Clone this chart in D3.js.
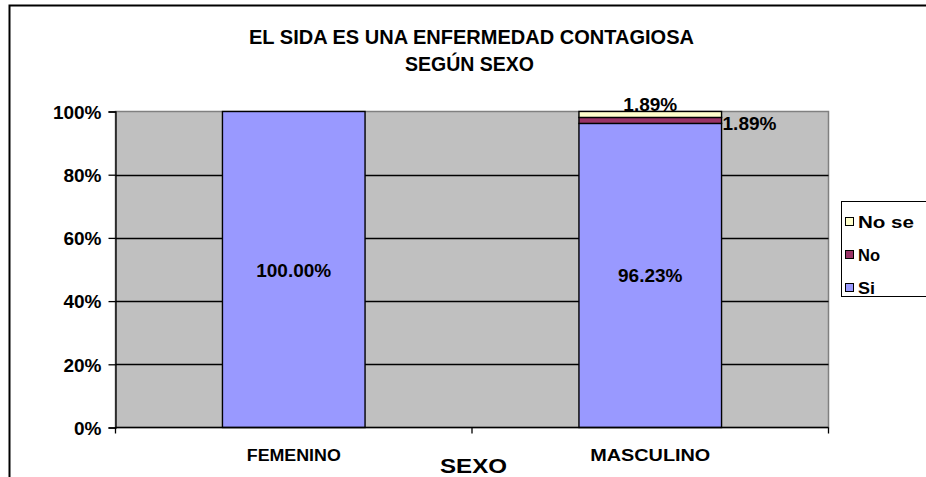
<!DOCTYPE html>
<html><head><meta charset="utf-8">
<script src="https://cdn.jsdelivr.net/npm/d3@7"></script>
<style>body{margin:0;background:#fff}text{font-family:"Liberation Sans",Arial,sans-serif;font-weight:bold;fill:#000}</style>
</head><body><svg id="c" width="926" height="477"></svg>
<script>
const categories = ["FEMENINO", "MASCULINO"];
const seriesNames = ["Si", "No", "No se"];
const si = [100.00, 96.23];
const no = [0, 1.89];
const noSe = [0, 1.89];
const yTicks = [0, 20, 40, 60, 80, 100];
const colors = ["#9999FF", "#993366", "#FFFFCC"];

const svg = d3.select("#c");
// outer border
svg.append("rect").attr("x", 9.5).attr("y", 5.5).attr("width", 940).attr("height", 500)
  .attr("fill", "#fff").attr("stroke", "#000").attr("stroke-width", 2);

const x0 = 115.5, x1 = 828.5, yTop = 111.5, yBot = 427.5;
const x = d3.scaleBand().domain(categories).range([x0, x1]).paddingInner(0.6).paddingOuter(0.3);
const y = d3.scaleLinear().domain([0, 100]).range([yBot, yTop]);

svg.append("rect").attr("x", x0).attr("y", yTop).attr("width", x1 - x0).attr("height", yBot - yTop)
  .attr("fill", "#C0C0C0").attr("stroke", "#808080").attr("stroke-width", 1.5);

// gridlines
svg.append("g").selectAll("line").data(yTicks.filter(d => d > 0 && d < 100)).join("line")
  .attr("x1", x0).attr("x2", x1).attr("y1", d => Math.round(y(d)) + 0.5).attr("y2", d => Math.round(y(d)) + 0.5)
  .attr("stroke", "#000").attr("stroke-width", 1.3);

// stacked bars
const rows = categories.map((c, i) => ({cat: c, "Si": si[i], "No": no[i], "No se": noSe[i]}));
const stack = d3.stack().keys(seriesNames)(rows);
stack.forEach((s, k) => {
  svg.append("g").selectAll("rect").data(s.filter(d => d[1] - d[0] > 0)).join("rect")
    .attr("x", d => x(d.data.cat)).attr("width", x.bandwidth())
    .attr("y", d => y(d[1])).attr("height", d => y(d[0]) - y(d[1]))
    .attr("fill", colors[k]).attr("stroke", "#000").attr("stroke-width", 1.4);
});

// y axis
const yAxis = d3.axisLeft(y).tickValues(yTicks).tickFormat(d => d + "%").tickSize(7).tickPadding(7);
const gy = svg.append("g").attr("transform", `translate(${x0},0)`).call(yAxis);
gy.select(".domain").attr("stroke", "#000").attr("stroke-width", 1.3);
gy.selectAll(".tick line").attr("stroke", "#000").attr("stroke-width", 1.3);
gy.selectAll("text").attr("font-family", null).style("font-size", "19px").attr("fill", "#000").attr("dy", "0.36em");

// x axis line with ticks at category boundaries
svg.append("line").attr("x1", x0).attr("x2", x1).attr("y1", yBot).attr("y2", yBot).attr("stroke", "#000").attr("stroke-width", 1.5);
const bounds = [x0, x0 + (x1 - x0) / 2, x1];
svg.append("g").selectAll("line").data(bounds).join("line")
  .attr("x1", d => d).attr("x2", d => d).attr("y1", yBot).attr("y2", yBot + 6).attr("stroke", "#000").attr("stroke-width", 1.3);
const catWidths = {"FEMENINO": 94, "MASCULINO": 120};
svg.append("g").selectAll("text").data(categories).join("text")
  .attr("x", d => x(d) + x.bandwidth() / 2 - catWidths[d] / 2).attr("y", 461)
  .attr("textLength", d => catWidths[d]).attr("lengthAdjust", "spacingAndGlyphs")
  .style("font-size", "16px").text(d => d);

svg.append("text").attr("x", 440).attr("y", 473).attr("textLength", 67).attr("lengthAdjust", "spacingAndGlyphs")
  .style("font-size", "21px").text("SEXO");

// title
svg.append("text").attr("x", 249).attr("y", 43.5).attr("textLength", 445).attr("lengthAdjust", "spacingAndGlyphs")
  .style("font-size", "21px").text("EL SIDA ES UNA ENFERMEDAD CONTAGIOSA");
svg.append("text").attr("x", 405).attr("y", 71).attr("textLength", 129).attr("lengthAdjust", "spacingAndGlyphs")
  .style("font-size", "21px").text("SEGÚN SEXO");

// data labels
const fmt = v => v.toFixed(2) + "%";
const lab = (xx, yy, anchor, t) => svg.append("text").attr("x", xx).attr("y", yy).attr("text-anchor", anchor).style("font-size", "19px").text(t);
lab(x("FEMENINO") + x.bandwidth() / 2, y(si[0] / 2) + 7, "middle", fmt(si[0]));
lab(x("MASCULINO") + x.bandwidth() / 2, y(si[1] / 2) + 7, "middle", fmt(si[1]));
lab(x("MASCULINO") + x.bandwidth() / 2, y(100) - 1, "middle", fmt(noSe[1]));
lab(x("MASCULINO") + x.bandwidth() + 1, y(si[1] + no[1] / 2) + 10, "start", fmt(no[1]));

// legend
const lg = svg.append("g");
lg.append("rect").attr("x", 841.5).attr("y", 201.5).attr("width", 100).attr("height", 95).attr("fill", "#fff").attr("stroke", "#000").attr("stroke-width", 1);
const legendItems = ["No se", "No", "Si"];
const legW = {"No se": 56, "No": 22, "Si": 17};
legendItems.forEach((n, i) => {
  const cy = 222 + i * 33;
  lg.append("rect").attr("x", 845.5).attr("y", cy - 4.5).attr("width", 8).attr("height", 8)
    .attr("fill", colors[seriesNames.indexOf(n)]).attr("stroke", "#000").attr("stroke-width", 1);
  lg.append("text").attr("x", 858).attr("y", cy + 6).attr("textLength", legW[n]).attr("lengthAdjust", "spacingAndGlyphs")
    .style("font-size", "17px").text(n);
});
</script></body></html>
